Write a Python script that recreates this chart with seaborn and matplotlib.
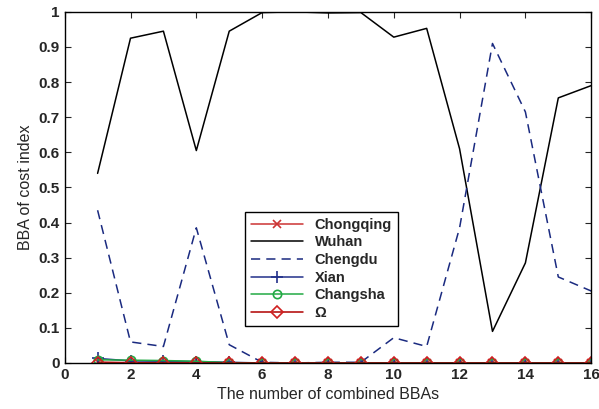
import matplotlib
matplotlib.use("Agg")
import matplotlib.pyplot as plt
import seaborn as sns
import numpy as np

sns.set_style("ticks")
plt.rcParams['font.family'] = ['Liberation Sans', 'DejaVu Sans']

x = list(range(1, 17))
chongqing = [0.003, 0.001, 0.001, 0.001, 0.0, 0.0, 0.0, 0.0, 0.0, 0.0, 0.0, 0.0, 0.0, 0.0, 0.0, 0.0]
wuhan = [0.54, 0.925, 0.945, 0.605, 0.945, 0.998, 1.0, 0.997, 0.998, 0.928, 0.953, 0.61, 0.09, 0.285, 0.755, 0.79]
chengdu = [0.435, 0.06, 0.047, 0.385, 0.052, 0.002, 0.0, 0.002, 0.002, 0.072, 0.047, 0.385, 0.91, 0.715, 0.245, 0.205]
xian = [0.013, 0.006, 0.005, 0.004, 0.002, 0.0, 0.0, 0.0, 0.0, 0.0, 0.0, 0.0, 0.0, 0.0, 0.0, 0.0]
changsha = [0.009, 0.008, 0.007, 0.005, 0.001, 0.0, 0.0, 0.0, 0.0, 0.0, 0.0, 0.0, 0.0, 0.0, 0.0, 0.0]
omega = [0.0] * 16

fig = plt.figure(figsize=(5.99, 4.09), dpi=100)
ax = fig.add_axes([0.108, 0.1125, 0.879, 0.8585])

series = [
    ("Chongqing", chongqing, dict(color="#cc3333", marker="x", markersize=6, mew=1.2, mec="#cc3333", mfc="none")),
    ("Wuhan", wuhan, dict(color="black")),
    ("Chengdu", chengdu, dict(color="#1a2a80", dashes=(6, 4))),
    ("Xian", xian, dict(color="#22308a", marker="+", markersize=9, mew=1.2, mec="#22308a")),
    ("Changsha", changsha, dict(color="#22aa44", marker="o", markersize=6, mfc="none", mew=1.2, mec="#22aa44")),
    ("\u03a9", omega, dict(color="#b00000", marker="D", markersize=6, mfc="none", mew=1.2, mec="#d02020")),
]
for name, vals, kw in series:
    sns.lineplot(x=x, y=vals, ax=ax, label=name, linewidth=1.1, **kw)

ax.set_xlim(0, 16)
ax.set_ylim(0, 1)
ax.set_xticks(range(0, 17, 2))
ax.set_yticks(np.arange(0, 1.01, 0.1))
ax.set_yticklabels(["0", "0.1", "0.2", "0.3", "0.4", "0.5", "0.6", "0.7", "0.8", "0.9", "1"])
ax.tick_params(direction="in", top=True, right=True, length=4, labelsize=11)
for lab in ax.get_xticklabels() + ax.get_yticklabels():
    lab.set_fontweight("bold")
for s in ax.spines.values():
    s.set_linewidth(1.0)
    s.set_color("black")
ax.set_xlabel("The number of combined BBAs", fontsize=11.5)
ax.set_ylabel("BBA of cost index", fontsize=11.5)

leg = ax.legend(loc="lower left", bbox_to_anchor=(0.328, 0.085), fancybox=False,
                edgecolor="black", framealpha=1, fontsize=10.5, handlelength=3.6,
                borderpad=0.4, labelspacing=0.25)
leg.get_frame().set_linewidth(1.0)
for t in leg.get_texts():
    t.set_fontweight("bold")

fig.savefig("out.png", dpi=100)
